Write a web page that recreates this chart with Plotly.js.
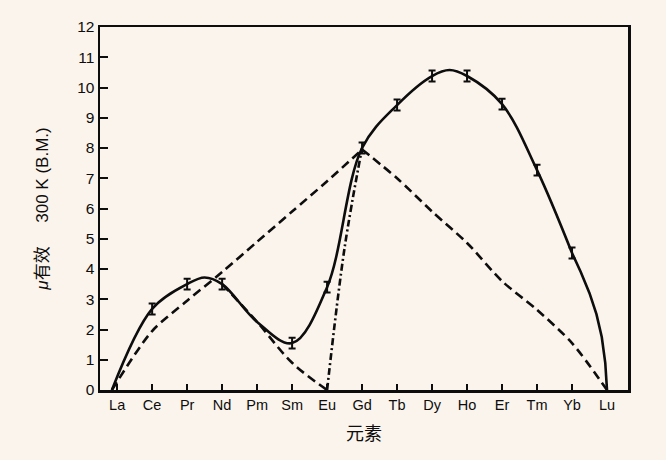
<!DOCTYPE html>
<html>
<head>
<meta charset="utf-8">
<script src="https://cdn.plot.ly/plotly-3.0.1.min.js"></script>
<style>html,body{margin:0;padding:0;background:#fbf4ec;}#chart{width:666px;height:460px;}</style>
</head>
<body>
<div id="chart"></div>
<script>
// Category labels (x tick labels), index 0..14
const elements = ['La','Ce','Pr','Nd','Pm','Sm','Eu','Gd','Tb','Dy','Ho','Er','Tm','Yb','Lu'];
const yTicks = [0,1,2,3,4,5,6,7,8,9,10,11,12];

const expCurveX = [-0.15, 1, 2, 2.5, 3, 4, 5, 6, 7, 8, 9, 9.5, 10, 11, 12, 13];
const expCurveY = [0, 2.68, 3.5, 3.72, 3.5, 2.25, 1.55, 3.4, 8.0, 9.42, 10.38, 10.58, 10.38, 9.45, 7.27, 4.53];
// Tail of the solid curve: Yb -> Lu
const expTailX = [13, 13.25, 13.5, 13.7, 13.85, 13.95, 14];
const expTailY = [4.53, 3.9, 3.2, 2.5, 1.75, 0.9, 0];

// Experimental points with error bars
const expPointX = [1, 2, 3, 5, 6, 7, 8, 9, 10, 11, 12, 13];
const expPointY = [2.68, 3.5, 3.5, 1.55, 3.4, 8.0, 9.42, 10.38, 10.38, 9.45, 7.27, 4.53];
const expErr = 0.18;

// Dashed curve rising La -> Gd
const dashRiseX = [-0.15, 1, 2, 3, 4, 5, 6, 7];
const dashRiseY = [0, 1.95, 2.95, 3.9, 4.9, 5.9, 6.9, 7.95];
// Dashed curve falling Gd -> Lu
const dashFallX = [7, 8, 9, 10, 11, 12, 13, 14];
const dashFallY = [7.95, 7.0, 5.9, 4.86, 3.6, 2.65, 1.55, 0];

// Dashed branch Nd -> Eu
const dashLowX = [3, 4, 5, 6];
const dashLowY = [3.5, 2.25, 0.9, 0];

// Dash-dot branch Eu -> Gd
const dashDotX = [6, 6.5, 7];
const dashDotY = [0, 4.7, 8.0];

const ink = '#0d0d0d';
const traces = [
  {x: expCurveX, y: expCurveY, mode: 'lines', line: {color: ink, width: 2.6, shape: 'spline', smoothing: 1}, hoverinfo: 'skip'},
  {x: expTailX, y: expTailY, mode: 'lines', line: {color: ink, width: 2.6, shape: 'linear'}, hoverinfo: 'skip'},
  {x: dashRiseX, y: dashRiseY, mode: 'lines', line: {color: ink, width: 2.6, dash: '9px,5px', shape: 'spline', smoothing: 0.8}, hoverinfo: 'skip'},
  {x: dashFallX, y: dashFallY, mode: 'lines', line: {color: ink, width: 2.6, dash: '9px,5px', shape: 'spline', smoothing: 0.8}, hoverinfo: 'skip'},
  {x: dashLowX, y: dashLowY, mode: 'lines', line: {color: ink, width: 2.6, dash: '9px,5px', shape: 'spline', smoothing: 1}, hoverinfo: 'skip'},
  {x: dashDotX, y: dashDotY, mode: 'lines', line: {color: ink, width: 2.6, dash: '7px,3px,2px,3px', shape: 'spline', smoothing: 1}, hoverinfo: 'skip'},
  {x: expPointX, y: expPointY, mode: 'markers', marker: {size: 2, color: 'rgba(0,0,0,0)'},
   error_y: {type: 'constant', value: expErr, color: ink, thickness: 2, width: 3.5}, hoverinfo: 'skip'}
];

const layout = {
  width: 666, height: 460,
  paper_bgcolor: '#fbf4ec', plot_bgcolor: '#fbf4ec',
  margin: {l: 100, r: 38, t: 27, b: 70},
  showlegend: false,
  font: {family: 'Liberation Sans, Arial, sans-serif', color: ink, size: 15},
  xaxis: {
    range: [-0.49, 14.6], tickmode: 'array',
    tickvals: elements.map((e, i) => i), ticktext: elements,
    ticks: 'inside', ticklen: 6, tickwidth: 2, tickcolor: ink,
    showline: true, linewidth: 2.5, linecolor: ink, mirror: true,
    showgrid: false, zeroline: false,
    tickfont: {size: 14.5, family: 'Liberation Sans, Arial, sans-serif', color: ink},
    title: {text: '元素', font: {size: 18, family: 'Noto Sans CJK SC, sans-serif', color: ink}, standoff: 16}
  },
  yaxis: {
    range: [0, 12], tickmode: 'array', tickvals: yTicks, ticktext: yTicks.map(String),
    ticks: 'inside', ticklen: 8, tickwidth: 2, tickcolor: ink,
    showline: true, linewidth: 2.5, linecolor: ink, mirror: true,
    showgrid: false, zeroline: false,
    tickfont: {size: 15.5, family: 'Liberation Sans, Arial, sans-serif', color: ink},
    title: {text: '<i>μ</i>有效\u00a0\u00a0\u00a0\u00a0\u00a0300 K (B.M.)', font: {size: 17, family: 'Liberation Sans, Noto Sans CJK SC, sans-serif', color: ink}, standoff: 24}
  }
};

Plotly.newPlot('chart', traces, layout, {displayModeBar: false, staticPlot: true});
</script>
</body>
</html>
